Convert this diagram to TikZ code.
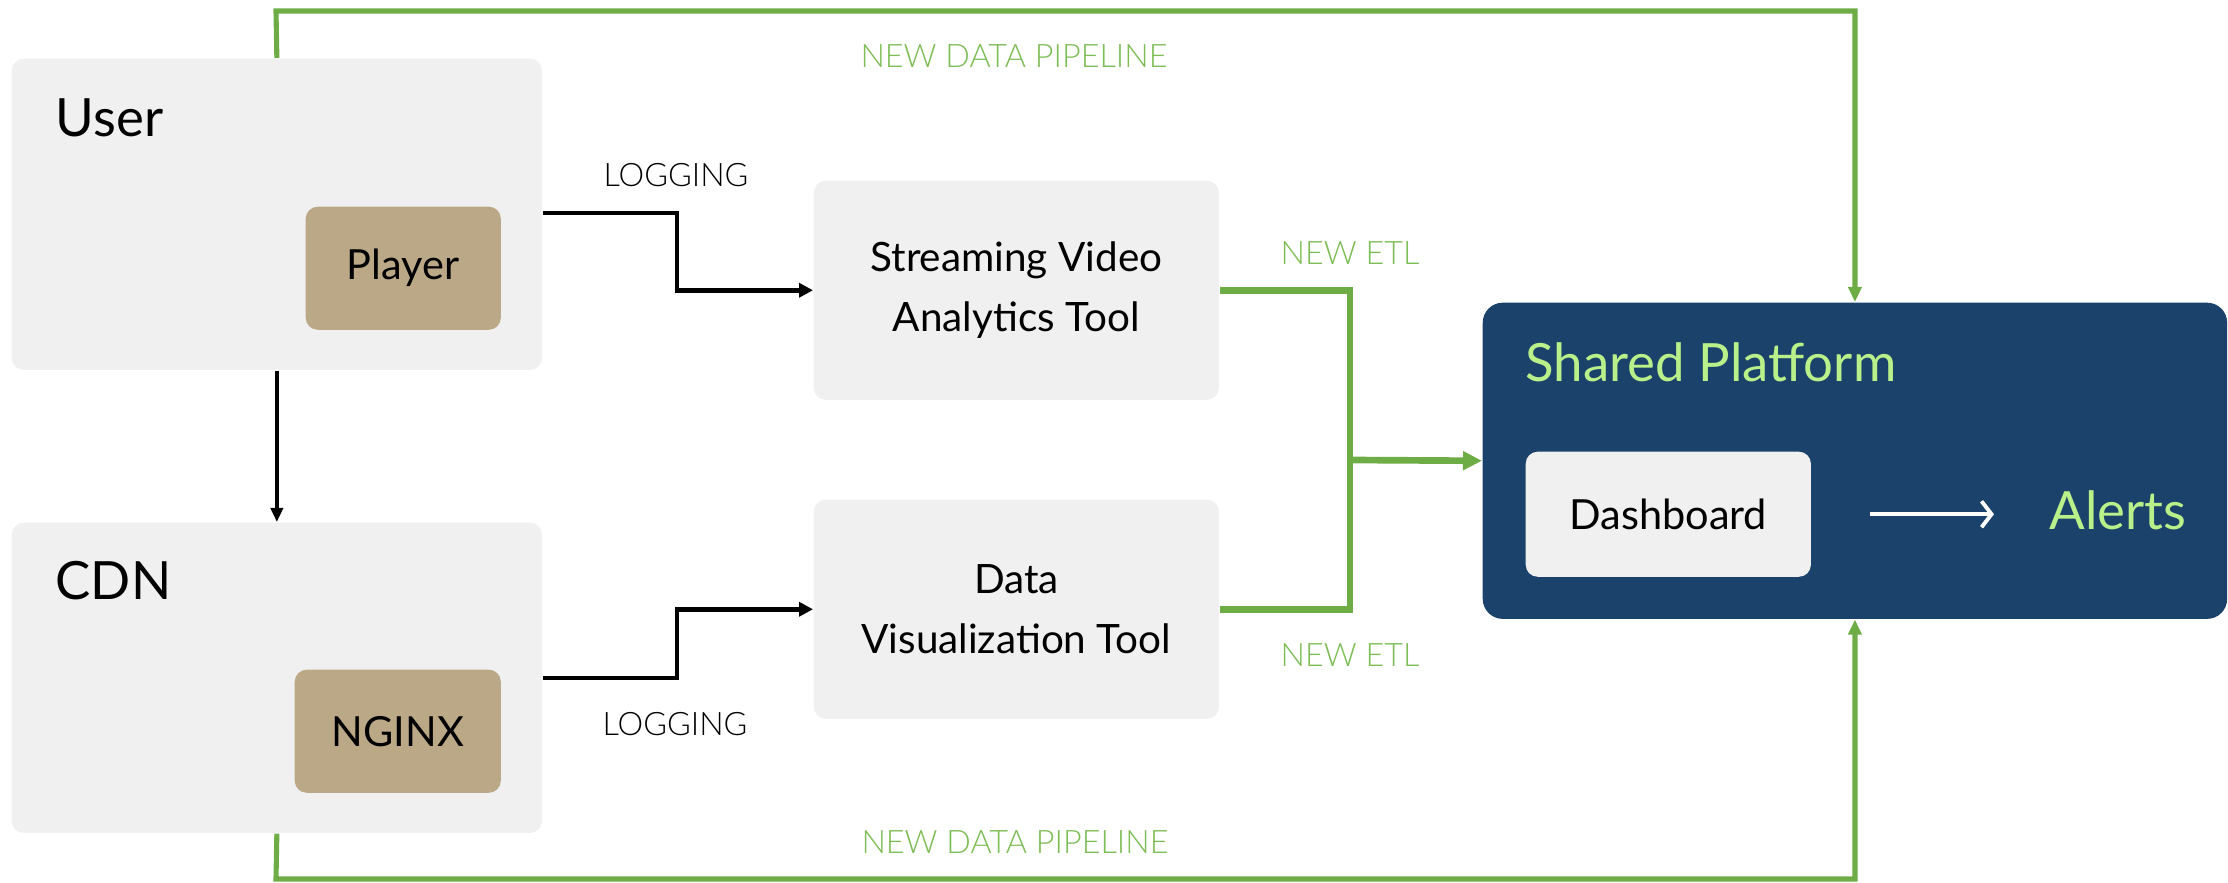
\documentclass[tikz,border=0pt]{standalone}
\usepackage{fontspec}
\setmainfont{Lato}
\newfontfamily\lightfont{Lato Light}
\usetikzlibrary{arrows.meta,calc}
\definecolor{boxgray}{HTML}{F0F0F0}
\definecolor{tan}{HTML}{BBA887}
\definecolor{navy}{HTML}{1B426B}
\definecolor{lgreen}{HTML}{6EAC46}
\definecolor{tgreen}{HTML}{7DBD55}
\definecolor{pgreen}{HTML}{B9F08A}
\begin{document}
\begin{tikzpicture}[x=0.01cm,y=-0.01cm,
  graybox/.style={fill=boxgray,rounded corners=0.12cm,inner sep=0pt,anchor=north west},
  tanbox/.style={fill=tan,rounded corners=0.12cm,inner sep=0pt,anchor=north west},
  smalltxt/.style={font=\fontsize{11.8}{14}\selectfont},
  bigtxt/.style={font=\fontsize{15}{18}\selectfont,inner sep=0pt},
  midtxt/.style={font=\fontsize{11.5}{17.07}\selectfont,align=center},
  lbl/.style={font=\lightfont\fontsize{9.2}{10}\selectfont,inner sep=0pt},
  logarr/.style={line width=1.3pt,-{Triangle[length=0.14cm,width=0.14cm]}},
  etl/.style={draw=lgreen,line width=1.9pt},
  pipe/.style={draw=lgreen,line width=1.45pt,-{Triangle[length=0.15cm,width=0.13cm]}}
]
\useasboundingbox (0,0) rectangle (2228,883);
% boxes
\node[graybox,minimum width=5.30cm,minimum height=3.11cm] (user) at (11,58) {};
\node[tanbox,minimum width=1.95cm,minimum height=1.23cm] (player) at (305,206) {};
\node[smalltxt] (playert) at (player.center) {Player};
\node[graybox,minimum width=5.30cm,minimum height=3.10cm] (cdn) at (11,522) {};
\node[tanbox,minimum width=2.06cm,minimum height=1.23cm] (nginx) at (294,669) {};
\node[smalltxt] (nginxt) at (nginx.center) {NGINX};
\node[graybox,minimum width=4.05cm,minimum height=2.19cm] (svat) at (813,180) {};
\node[midtxt] (svatt) at (svat.center) {Streaming Video\\Analytics Tool};
\node[graybox,minimum width=4.05cm,minimum height=2.19cm] (dvt) at (813,499) {};
\node[midtxt] (dvtt) at (dvt.center) {Data\\Visualization Tool};
\node[fill=navy,rounded corners=0.2cm,inner sep=0pt,anchor=north west,minimum width=7.44cm,minimum height=3.16cm] (shared) at (1482,302) {};
\node[graybox,minimum width=2.85cm,minimum height=1.25cm] (dash) at (1525,451) {};
\node[smalltxt] (dasht) at (dash.center) {Dashboard};
% titles
\node[bigtxt,anchor=base west] (usert) at (55,137) {User};
\node[bigtxt,anchor=base west] (cdnt) at (55,600) {CDN};
\node[bigtxt,anchor=base west,text=pgreen] (sharedt) at (1525,382) {Shared Platform};
\node[bigtxt,anchor=base west,text=pgreen] (alerts) at (2049,530) {Alerts};
% labels
\node[lbl] (log1) at (676,175) {LOGGING};
\node[lbl] (log2) at (675,724) {LOGGING};
\node[lbl,text=tgreen] (pipe1) at (1014,56) {NEW DATA PIPELINE};
\node[lbl,text=tgreen] (pipe2) at (1015,842) {NEW DATA PIPELINE};
\node[lbl,text=tgreen] (etl1) at (1350,253) {NEW ETL};
\node[lbl,text=tgreen] (etl2) at (1350,655) {NEW ETL};
% connectors
\coordinate (j1) at (677,213);
\coordinate (j2) at (677,678);
\coordinate (m) at (1350,460);
\coordinate (top) at (276,11);
\coordinate (bot) at (276,879);
\draw[logarr] (user.east |- j1) -- (j1) |- (svat.west);
\draw[logarr] (cdn.east |- j2) -- (j2) |- (dvt.west);
\draw[line width=1pt,-{Triangle[length=0.14cm,width=0.12cm]}] (user.south) -- (cdn.north);
\draw[etl] (svat.east) -| (m) |- (dvt.east);
\draw[etl,-{Triangle[length=0.19cm,width=0.18cm]}] (m) -- (shared.west);
\draw[pipe] (user.north) -- (top) -| (shared.north);
\draw[pipe] (cdn.south) -- (bot) -| (shared.south);
\draw[white,line width=1.1pt,-{Straight Barb[length=0.1cm,width=0.26cm]}] ([xshift=0.58cm]dash.east) -- ([xshift=-0.55cm]alerts.west |- dash.east);
\end{tikzpicture}
\end{document}
